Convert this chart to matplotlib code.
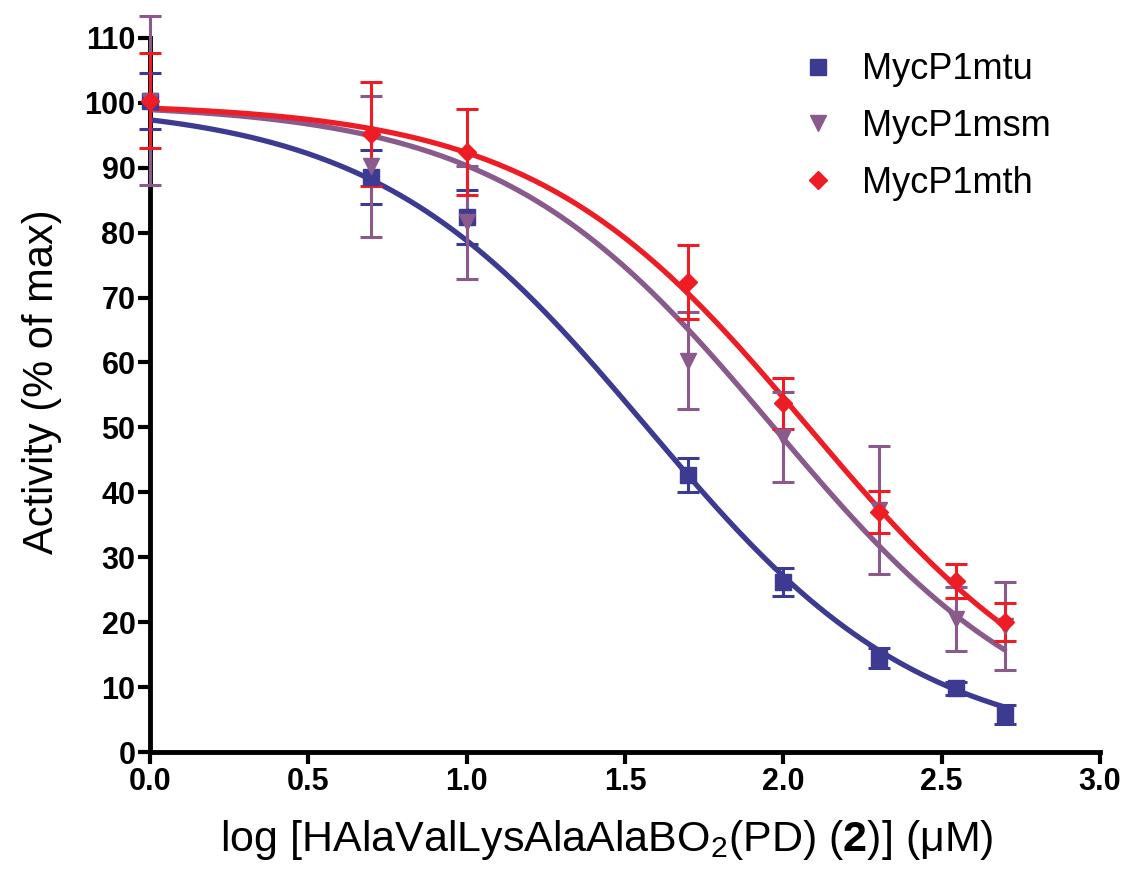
import numpy as np
import matplotlib
matplotlib.use("Agg")
import matplotlib.pyplot as plt

plt.rcParams['mathtext.fontset'] = 'custom'
plt.rcParams['mathtext.rm'] = 'Liberation Sans'
plt.rcParams['mathtext.bf'] = 'Liberation Sans:bold'

# Data
log_conc = [0.0, 0.699, 1.0, 1.699, 2.0, 2.301, 2.544, 2.699]
series_names = ["MycP1mtu", "MycP1msm", "MycP1mth"]

mtu_mean = [100.3, 88.6, 82.4, 42.7, 26.2, 14.5, 9.8, 5.8]
mtu_err = [4.3, 4.2, 4.2, 2.6, 2.2, 1.5, 1.0, 1.5]

msm_mean = [100.3, 90.2, 81.6, 60.3, 48.5, 37.3, 20.5, 19.4]
msm_err = [13.0, 10.8, 8.7, 7.5, 6.9, 9.9, 4.9, 6.8]

mth_mean = [100.3, 95.2, 92.4, 72.4, 53.7, 37.0, 26.3, 20.0]
mth_err = [7.3, 8.0, 6.6, 5.7, 3.9, 3.2, 2.6, 2.9]

# Fitted sigmoid parameters (bottom, top, logIC50, hill slope)
mtu_fit = [0.0, 100.0, 1.57, 1.0]
msm_fit = [0.0, 100.0, 1.97, 1.0]
mth_fit = [0.0, 100.0, 2.08, 1.0]

x_ticks = [0.0, 0.5, 1.0, 1.5, 2.0, 2.5, 3.0]
y_ticks = [0, 10, 20, 30, 40, 50, 60, 70, 80, 90, 100, 110]

colors = ["#3d3a92", "#8a5a8c", "#ee1c25"]
markers = ["s", "v", "D"]
msizes = [11, 11, 9]

fig = plt.figure(figsize=(11.25, 8.73), dpi=100)
ax = fig.add_axes([0.1333, 0.1386, 0.8445, 0.8180])

xs = np.linspace(log_conc[0], log_conc[-1], 300)
for name, mean, err, fit, c, m, ms in zip(
        series_names, [mtu_mean, msm_mean, mth_mean], [mtu_err, msm_err, mth_err],
        [mtu_fit, msm_fit, mth_fit], colors, markers, msizes):
    b, t, ic, h = fit
    ys = b + (t - b) / (1 + 10 ** ((xs - ic) * h))
    ax.plot(xs, ys, color=c, lw=3.8, zorder=3, solid_capstyle='round')
    ax.errorbar(log_conc, mean, yerr=err, fmt=m, color=c, ms=ms, elinewidth=2.2,
                capsize=8, capthick=2.2, zorder=4, clip_on=False)
    ax.plot([], [], m, color=c, ms=ms, label=name)

ax.set_xlim(0, 3.0)
ax.set_ylim(0, 110)
ax.set_xticks(x_ticks)
ax.set_yticks(y_ticks)
ax.set_xticklabels([f"{v:.1f}" for v in x_ticks],
                   fontfamily='Liberation Sans', fontweight='bold', fontsize=22)
ax.set_yticklabels([str(v) for v in y_ticks],
                   fontfamily='Liberation Sans', fontweight='bold', fontsize=22)

for side in ['top', 'right']:
    ax.spines[side].set_visible(False)
for side in ['left', 'bottom']:
    ax.spines[side].set_linewidth(3.5)
    ax.spines[side].set_color('black')
ax.tick_params(axis='both', direction='out', length=8.5, width=3, color='black', pad=2)

ax.set_ylabel("Activity (% of max)", fontfamily='Liberation Sans', fontsize=30)
ax.yaxis.set_label_coords(-0.093, 0.518)
ax.set_xlabel("log [HAlaValLysAlaAlaBO$_2$(PD) ($\\mathbf{2}$)] (μM)",
              fontfamily='Liberation Sans', fontsize=31)
ax.xaxis.set_label_coords(0.481, -0.092)

leg = ax.legend(loc='upper right', bbox_to_anchor=(0.963, 1.0), frameon=False,
                prop={'family': 'Liberation Sans', 'size': 26}, handletextpad=0.6,
                labelspacing=0.6, handlelength=1.2, borderaxespad=0)

fig.savefig("out.png", dpi=100)
